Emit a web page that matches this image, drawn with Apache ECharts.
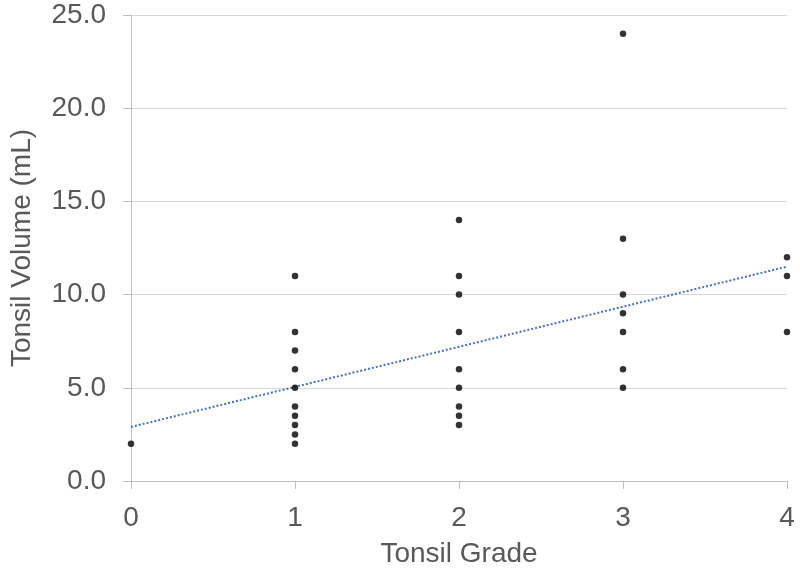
<!DOCTYPE html>
<html>
<head>
<meta charset="utf-8">
<script src="https://cdn.jsdelivr.net/npm/echarts@6/dist/echarts.min.js"></script>
<style>html,body{margin:0;padding:0;background:#fff}#c{width:800px;height:573px}</style>
</head>
<body>
<div id="c"></div>
<script>
var grades = [0, 1, 1, 1, 1, 1, 1, 1, 1, 1, 1, 2, 2, 2, 2, 2, 2, 2, 2, 2, 3, 3, 3, 3, 3, 3, 3, 4, 4, 4];
var volumes = [2.0, 11.0, 8.0, 7.0, 6.0, 5.0, 4.0, 3.5, 3.0, 2.5, 2.0, 14.0, 11.0, 10.0, 8.0, 6.0, 5.0, 4.0, 3.5, 3.0, 24.0, 13.0, 10.0, 9.0, 8.0, 6.0, 5.0, 12.0, 11.0, 8.0];
var trendX = [0, 4];
var trendY = [2.9, 11.5];
var xTicks = [0, 1, 2, 3, 4];
var yTicks = [0, 5, 10, 15, 20, 25];

var points = grades.map(function (g, i) { return [g, volumes[i]]; });
var trend = trendX.map(function (x, i) { return [x, trendY[i]]; });

var chart = echarts.init(document.getElementById('c'), null, { renderer: 'canvas' });
chart.setOption({
  animation: false,
  backgroundColor: '#ffffff',
  grid: { left: 127, right: 13, top: 15, bottom: 92, containLabel: false },
  xAxis: {
    type: 'value', min: 0, max: 4, interval: 1,
    name: 'Tonsil Grade', nameLocation: 'middle', nameGap: 59,
    nameTextStyle: { fontFamily: 'Liberation Sans', fontSize: 28, color: '#595959' },
    axisLine: { show: true, onZero: false, lineStyle: { color: '#bfbfbf', width: 1 } },
    axisTick: { show: true, length: 8, inside: false, lineStyle: { color: '#bfbfbf' } },
    axisLabel: { fontFamily: 'Liberation Sans', fontSize: 28, color: '#595959', margin: 23,
      formatter: function (v) { return xTicks.indexOf(v) >= 0 ? String(v) : ''; } },
    splitLine: { show: false }
  },
  yAxis: {
    type: 'value', min: 0, max: 25, interval: 5,
    name: 'Tonsil Volume (mL)', nameLocation: 'middle', nameGap: 95, nameRotate: 90,
    nameTextStyle: { fontFamily: 'Liberation Sans', fontSize: 28, color: '#595959' },
    axisLine: { show: true, lineStyle: { color: '#bfbfbf', width: 1 } },
    axisTick: { show: true, length: 8, lineStyle: { color: '#bfbfbf' } },
    axisLabel: { fontFamily: 'Liberation Sans', fontSize: 28, color: '#595959', margin: 25,
      formatter: function (v) { return yTicks.indexOf(v) >= 0 ? v.toFixed(1) : ''; } },
    splitLine: { show: true, lineStyle: { color: '#d9d9d9', width: 1 } }
  },
  series: [
    {
      type: 'line', data: trend, symbol: 'none', z: 2,
      lineStyle: { color: '#4472c4', width: 2, type: [2, 2] }
    },
    {
      type: 'scatter', data: points, symbol: 'circle', symbolSize: 6.5, z: 3,
      itemStyle: { color: '#000000' }
    }
  ]
});
</script>
</body>
</html>
